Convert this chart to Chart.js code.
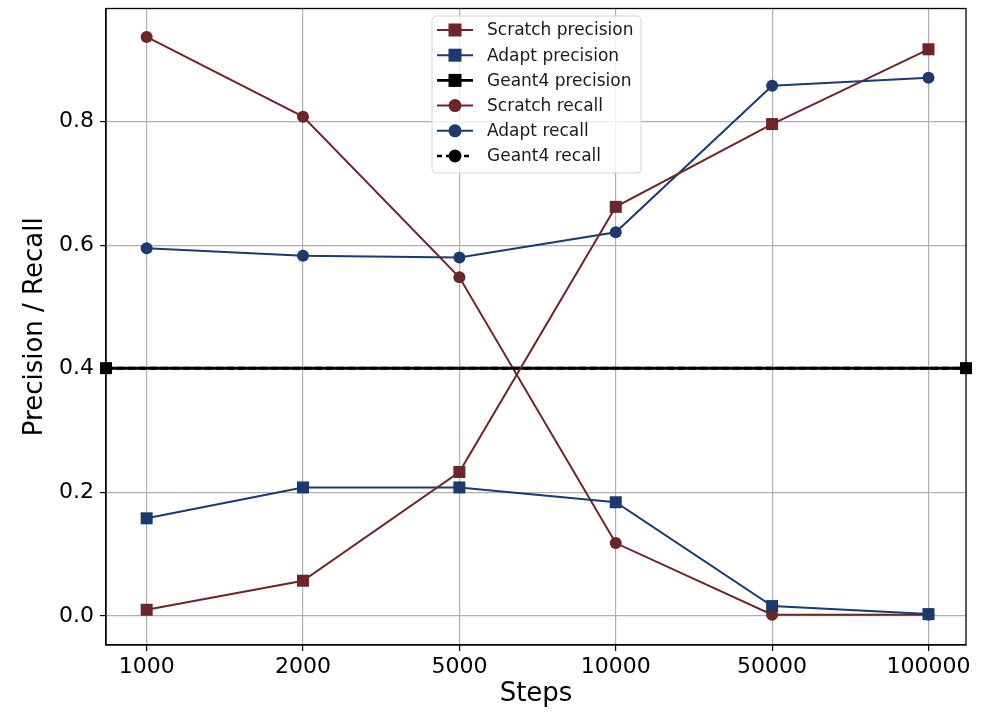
<!DOCTYPE html>
<html>
<head>
<meta charset="utf-8">
<script src="https://cdn.jsdelivr.net/npm/chart.js@4"></script>
<style>
  html, body { margin: 0; padding: 0; background: #fff; }
  #wrap { width: 985px; height: 714px; }
</style>
</head>
<body>
<div id="wrap"><canvas id="c" width="985" height="714"></canvas></div>
<script>
const steps = ['1000', '2000', '5000', '10000', '50000', '100000'];
const scratchPrecision = [0.010, 0.057, 0.233, 0.662, 0.796, 0.917];
const adaptPrecision = [0.158, 0.208, 0.208, 0.184, 0.016, 0.003];
const scratchRecall = [0.937, 0.808, 0.548, 0.118, 0.002, 0.002];
const adaptRecall = [0.595, 0.583, 0.580, 0.621, 0.858, 0.871];
const geant4Precision = 0.401;
const geant4Recall = 0.401;
const yTicks = [0.0, 0.2, 0.4, 0.6, 0.8];

const brown = '#6b2727';
const blue = '#1c3a6e';
const xMin = -0.26, xMax = steps.length - 0.76;
const font = 'DejaVu Sans';

const toXY = arr => arr.map((v, i) => ({x: i, y: v}));
const flat = v => [{x: xMin, y: v}, {x: xMax, y: v}];

const series = [
  {label: 'Scratch precision', data: toXY(scratchPrecision), color: brown, style: 'rect', dash: []},
  {label: 'Adapt precision', data: toXY(adaptPrecision), color: blue, style: 'rect', dash: []},
  {label: 'Geant4 precision', data: flat(geant4Precision), color: '#000', style: 'rect', dash: []},
  {label: 'Scratch recall', data: toXY(scratchRecall), color: brown, style: 'circle', dash: []},
  {label: 'Adapt recall', data: toXY(adaptRecall), color: blue, style: 'circle', dash: []},
  {label: 'Geant4 recall', data: flat(geant4Recall), color: '#000', style: 'circle', dash: [7, 4]}
];

// legend drawn inside the plot, like the matplotlib one
const boxLegend = {
  id: 'boxLegend',
  afterDraw(chart) {
    const ctx = chart.ctx;
    const x0 = 432, y0 = 16, w = 209, h = 157;
    ctx.save();
    ctx.beginPath();
    ctx.roundRect(x0, y0, w, h, 4);
    ctx.fillStyle = 'rgba(255,255,255,0.8)';
    ctx.fill();
    ctx.strokeStyle = '#d6d6d6';
    ctx.lineWidth = 1;
    ctx.stroke();
    ctx.font = '17px "' + font + '"';
    ctx.textBaseline = 'middle';
    series.forEach((s, i) => {
      const y = 30 + i * 25.2;
      ctx.strokeStyle = s.color;
      ctx.lineWidth = s.label.startsWith('Geant4') ? 2.6 : 2;
      ctx.setLineDash(s.dash.length ? [5, 4] : []);
      ctx.beginPath();
      ctx.moveTo(437, y);
      ctx.lineTo(473, y);
      ctx.stroke();
      ctx.setLineDash([]);
      ctx.fillStyle = s.color;
      if (s.style === 'rect') {
        ctx.fillRect(448.5, y - 6.5, 13, 13);
      } else {
        ctx.beginPath();
        ctx.arc(455, y, 6.5, 0, Math.PI * 2);
        ctx.fill();
      }
      ctx.fillStyle = '#1a1a1a';
      ctx.fillText(s.label, 487, y + 1);
    });
    ctx.restore();
  }
};

new Chart(document.getElementById('c'), {
  type: 'line',
  data: {
    datasets: series.map(s => ({
      label: s.label,
      data: s.data,
      borderColor: s.color,
      backgroundColor: s.color,
      borderWidth: s.label.startsWith('Geant4') ? 3 : 2,
      borderDash: s.dash,
      pointStyle: s.style,
      pointRadius: s.style === 'rect' ? 8.5 : 6,
      pointBorderWidth: 0,
      pointHoverRadius: 0,
      clip: false,
      tension: 0
    }))
  },
  options: {
    responsive: false,
    animation: false,
    events: [],
    layout: {padding: {top: 7, right: 19, left: 0, bottom: 0}},
    plugins: {legend: {display: false}, tooltip: {enabled: false}},
    scales: {
      x: {
        type: 'linear',
        min: xMin,
        max: xMax,
        afterBuildTicks: scale => { scale.ticks = steps.map((_, i) => ({value: i})); },
        afterFit: scale => {
          scale.height = 714 - 645;
          scale.paddingLeft = 0;
          scale.paddingRight = 0;
        },
        ticks: {
          callback: v => steps[v],
          color: '#000',
          font: {family: font, size: 22},
          padding: 3,
          maxRotation: 0
        },
        grid: {color: '#b0b0b0', lineWidth: 1.2, tickLength: 6, tickColor: '#000'},
        border: {color: '#000', width: 1.3},
        title: {display: true, text: 'Steps', color: '#000', font: {family: font, size: 26}, padding: {top: 2, bottom: 4}}
      },
      y: {
        type: 'linear',
        min: -0.047,
        max: 0.983,
        afterBuildTicks: scale => { scale.ticks = yTicks.map(v => ({value: v})); },
        afterFit: scale => {
          scale.width = 106;
          scale.paddingTop = 0;
          scale.paddingBottom = 0;
        },
        ticks: {
          callback: v => v.toFixed(1),
          color: '#000',
          font: {family: font, size: 22},
          padding: 6
        },
        grid: {color: '#b0b0b0', lineWidth: 1.2, tickLength: 6, tickColor: '#000'},
        border: {color: '#000', width: 1.3},
        title: {display: true, text: 'Precision / Recall', color: '#000', font: {family: font, size: 26}, padding: {top: 20, bottom: 0}}
      }
    }
  },
  plugins: [boxLegend, {
    id: 'frame',
    afterDatasetsDraw(chart) {
      const a = chart.chartArea, ctx = chart.ctx;
      ctx.save();
      ctx.strokeStyle = '#000';
      ctx.lineWidth = 1.3;
      ctx.strokeRect(a.left, a.top, a.right - a.left, a.bottom - a.top);
      ctx.restore();
    }
  }]
});
</script>
</body>
</html>
